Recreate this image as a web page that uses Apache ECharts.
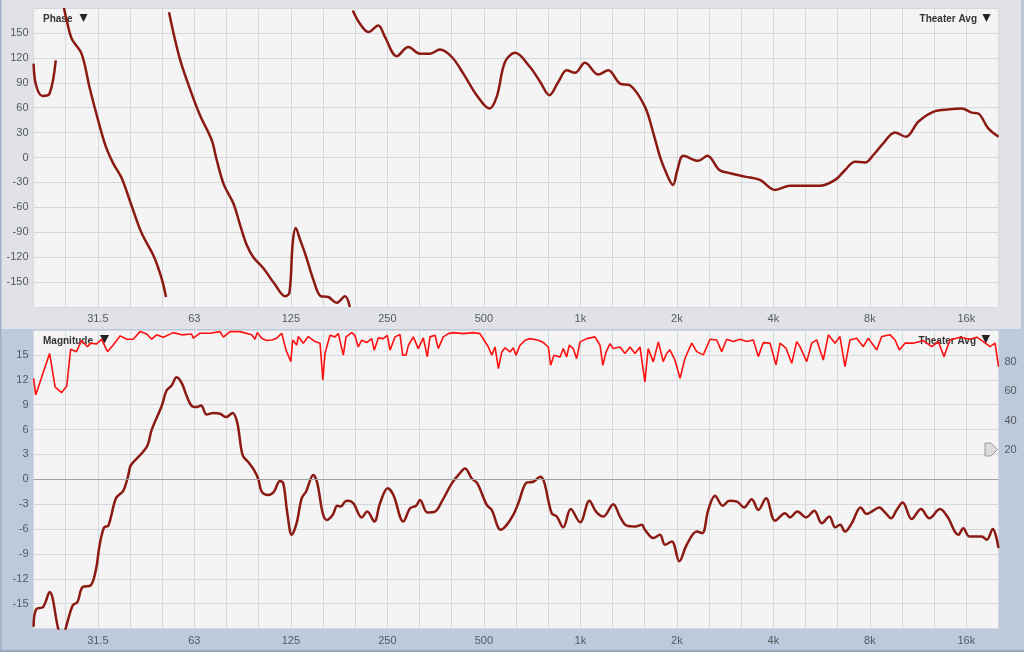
<!DOCTYPE html>
<html><head><meta charset="utf-8">
<script src="https://cdn.jsdelivr.net/npm/echarts/dist/echarts.min.js"></script>
<style>
html,body{margin:0;padding:0;}
body{width:1024px;height:652px;overflow:hidden;background:linear-gradient(#e0e2e7 0px,#e0e2e7 329px,#bccadb 329px,#bccadb 652px);}
#c{width:1024px;height:652px;}
</style></head><body><div id="c"></div>
<script>
// ---------- x axis (frequency, Hz, 1/3-octave grid, labels at octaves) ----------
const xTickOctaves = [-5, -4, -3, -2, -1, 0, 1, 2, 3, 4];
const xTickLabels = ['31.5', '63', '125', '250', '500', '1k', '2k', '4k', '8k', '16k'];

// ---------- Magnitude (dB) ----------
const magFreq = [
  19.7, 20.05, 21.1, 22.1, 23.5, 24.2, 24.8, 26.1, 27.0, 28.0,
  29.7, 30.9, 31.6, 32.7, 33.7, 35.6, 37.5, 38.6, 39.2, 39.6,
  44.4, 46.0, 49.4, 51.2, 53.1, 55.0, 57.1, 59.2, 61.3, 63.6,
  65.6, 68.3, 71.6, 75.2, 78.5, 82.3, 85.1, 88.4, 91.9, 96.0,
  99.0, 101.4, 106.3, 110.7, 115.6, 118.4, 121.9, 125.8, 130.3, 135.1,
  139.4, 146.9, 151.2, 157.2, 161.7, 168.8, 174.5, 178.9, 184.4, 188.7,
  195.8, 207.9, 216.4, 227.7, 237.2, 250.6, 261.1, 280.4, 294.4, 307.3,
  316.1, 333.3, 352.2, 369.5, 397.2, 416.1, 436.9, 458.3, 477.2, 510.6,
  529.2, 564.5, 589.4, 617.7, 640.6, 680.4, 713.2, 749.7, 770.5, 814,
  844.2, 884.5, 933, 998.6, 1067, 1119, 1180, 1267, 1329, 1395,
  1483, 1555, 1591, 1690, 1772, 1837, 1929, 2036, 2147, 2307,
  2401, 2507, 2631, 2782, 2916, 3082, 3241, 3425, 3591, 3795,
  4050, 4352, 4508, 4753, 5058, 5368, 5665, 5982, 6234, 6461,
  6698, 7026, 7489, 7822, 8109, 8563, 8921, 9314, 9702, 10130,
  10805, 11551, 12266, 13244, 13959, 15108, 15653, 16348, 17870, 18525,
  19342, 20159
];
const magDb = [
  -17.8, -15.7, -15.4, -13.6, -18, -19.5, -18, -15.2, -14.8, -13.0,
  -12.8, -10.7, -8.1, -5.8, -5.6, -2.3, -1.4, 0, 1.1, 1.7,
  3.9, 5.95, 8.8, 10.7, 11.3, 12.3, 11.6, 10.0, 8.85, 8.7,
  8.9, 7.8, 8.0, 7.9, 7.5, 8.0, 6.8, 2.9, 2.1, 1.1,
  0, -1.5, -1.9, -1.5, -0.2, -0.5, -4.1, -6.7, -5.3, -2.3,
  -1.5, 0.5, -0.5, -4.1, -4.9, -4.3, -3.2, -3.3, -2.7, -2.6,
  -2.9, -4.6, -3.9, -5.1, -2.9, -1.1, -1.9, -5.1, -3.5, -3.2,
  -2.5, -4.0, -3.9, -2.7, -0.5, 0.5, 1.3, 0.1, -0.5, -3.1,
  -3.7, -6.1, -5.5, -4.3, -2.9, -0.4, -0.3, 0.3, -0.3, -4.1,
  -4.5, -5.8, -3.6, -5.2, -2.6, -3.9, -4.5, -3.0, -4.5, -5.6,
  -5.7, -5.5, -6.1, -7.1, -6.7, -7.9, -7.5, -9.9, -7.9, -6.3,
  -6.5, -3.7, -2.0, -3.2, -2.6, -2.7, -3.4, -2.4, -3.7, -2.3,
  -5.0, -4.1, -4.6, -3.9, -4.6, -3.8, -5.3, -4.5, -5.8, -5.5,
  -6.3, -5.3, -3.4, -4.2, -3.9, -3.4, -4.0, -4.7, -3.7, -2.8,
  -4.8, -3.6, -4.7, -3.6, -4.5, -6.7, -5.9, -6.9, -6.9, -7.3,
  -6.0, -8.3
];

// ---------- Phase (degrees, wrapped; null = wrap break) ----------
const phaseFreq = [
  19.7, 20.05, 21.0, 22.1, 23.1, 23.8,
  24.5, 25.0, 25.9, 27.8, 29.5, 31.4, 33.1, 34.9, 37.1, 39.9, 42.8, 46.7, 48.8, 50.0, 51.0, 51.5,
  52.1, 56.3, 61.3, 65.1, 70.8, 73.4, 77.3, 82.7, 86.8, 91.0, 95.5, 102.5, 111.6, 119.9,
  123.7, 126.7, 129.5, 133.6, 139.4, 146.9, 154.9, 163.6, 173.8, 184.4, 191.0, 193.0,
  195.0, 205.4, 218.0, 234.2, 245.9, 267.4, 290.7, 316.1, 339.8, 364.8, 397.2, 431.6,
  475.0, 520.1, 548.4, 582.1, 625.6, 696.6, 749.7, 800.6, 853.5, 906.6, 962.3, 1034,
  1138, 1222, 1329, 1428, 1591, 1690, 1772, 1837, 1946, 2008, 2096, 2334, 2489, 2714,
  2933, 3265, 3634, 4050, 4508, 5023, 5592, 6234, 6698, 7192, 7731, 8205, 8810, 9581,
  10371, 11329, 12617, 14222, 15481, 16620, 17427, 18727, 20159
];
const phaseDeg = [
  113, 87, 74, 77, 117, null,
  180, 165, 143, 125, 83, 43, 13, -7, -25, -59, -91, -119, -139, -153, -168, null,
  175, 119, 77, 51, 21, -3, -33, -55, -81, -105, -120, -133, -153, -167,
  -163, -103, -85, -99, -119, -147, -167, -168, -175, -167, -180, null,
  177, 161, 151, 159, 145, 122, 133, 125, 125, 130, 121, 101,
  75, 59, 73, 115, 126, 109, 91, 75, 91, 105, 102, 114,
  100, 105, 89, 87, 61, 29, 1, -15, -33, -15, 2, -4, 2, -15,
  -19, -23, -27, -39, -34, -34, -34, -27, -15, -5, -6, 3, 17, 30,
  25, 43, 55, 58, 59, 54, 53, 35, 25
];

// ---------- Coherence (right axis) ----------
const cohFreq = [
  19.7, 20.0, 22.1, 23.0, 24.1, 25.0, 25.7, 26.8, 27.8, 29.0,
  29.7, 31.0, 32.1, 33.5, 34.9, 36.7, 38.5, 40.3, 42.3, 44.4,
  46.0, 47.7, 50.0, 53.7, 57.1, 61.3, 62.0, 65.1, 69.9, 75.2,
  77.0, 80.8, 86.8, 94.4, 96.6, 98.3, 101.4, 105.1, 108.9, 112.9,
  117.1, 120.7, 125.0, 126.7, 130.4, 131.9, 136.7, 141.7, 148.7, 154.2,
  157.3, 159.8, 165.6, 171.7, 175.8, 182.2, 185.8, 193.6, 198.0, 202.9,
  207.9, 215.5, 223.4, 227.6, 234.3, 242.8, 250, 254.9, 264.2, 273.8,
  279.2, 286.0, 290.8, 301.3, 312.2, 323.8, 333.1, 339.6, 352.2, 360.4,
  373.6, 387.5, 401.5, 431.4, 463.6, 486.2, 501, 516.6, 529.2, 541.9,
  555.1, 568.7, 582.1, 603.4, 617.8, 630, 648.3, 672.3, 696.6, 739.6,
  766.9, 794.3, 808.1, 827.4, 864.4, 884.9, 906.6, 923.5, 950.6, 973.9,
  997.8, 1047, 1111, 1152, 1175, 1203, 1238, 1267, 1330, 1378,
  1429, 1481, 1535, 1590, 1628, 1689, 1751, 1814, 1858, 1903,
  1973, 2047, 2121, 2226, 2307, 2419, 2538, 2664, 2760, 2862,
  3001, 3148, 3303, 3464, 3591, 3722, 3906, 4078, 4197, 4380,
  4565, 4731, 4844, 5083, 5269, 5464, 5727, 5938, 6229, 6455,
  6691, 6935, 7279, 7633, 7911, 8406, 8713, 9251, 9593, 9888,
  10302, 10935, 11743, 12475, 13076, 13627, 14222, 15290, 16428, 17242,
  18080, 18972, 19664, 20159
];
const cohVals = [
  69, 57.6, 86, 62.9, 59.2, 63.8, 88.9, 87.2, 94.8, 90.6,
  93, 92.5, 95.7, 87.2, 91.8, 98, 95.7, 95.7, 100.9, 99.3,
  95.7, 98.7, 97.1, 100.2, 98.7, 99.3, 96.4, 99.8, 99.8, 100.9,
  97.1, 100.9, 100.9, 98.7, 95.7, 100.2, 96.4, 94.8, 95.2, 96.4,
  99.8, 88.4, 80.4, 95.2, 91.8, 97.5, 93, 97.5, 94.1, 93,
  67.9, 86.1, 98.4, 97.3, 99.5, 84.8, 97.3, 100.2, 98.4, 90.4,
  95, 93.4, 96.1, 88.2, 96.6, 96.1, 98.4, 88.2, 97.3, 98.9,
  84.8, 84.8, 91.6, 97.3, 89.3, 96.6, 83.6, 97.3, 98.4, 89.3,
  97.3, 99.5, 100.2, 99.5, 100.2, 99.5, 95, 90.4, 84.8, 90.4,
  75.6, 87, 89.8, 87, 89.8, 84.8, 91.6, 95, 96.1, 95,
  93.4, 90.4, 77.9, 84.8, 83.6, 89.3, 83.6, 91.6, 89.3, 82.4,
  93.9, 96.1, 97.3, 91.6, 77.9, 87, 92.7, 89.3, 90.4, 85.9,
  90.4, 85.9, 90.4, 66.5, 89.3, 80.2, 93.9, 80.4, 85.9, 88.4,
  81.5, 69, 82.7, 93, 87.2, 85, 95.7, 95.2, 87.2, 95.7,
  94.1, 95.7, 94.1, 95.2, 83.8, 93.4, 93, 78.1, 93, 89.6,
  79.3, 94.1, 90.6, 80.4, 93, 95.2, 81.5, 98.7, 93, 97.5,
  77, 95.2, 96.4, 90.6, 96.4, 88.4, 97.5, 98.7, 95.2, 88.4,
  93, 93, 94.8, 90.6, 94.1, 83.8, 95.2, 97.1, 95.7, 97.1,
  94.1, 90.6, 93, 77
];

// ---------- build ----------
const toOct = f => Math.log2(f / 1000);
const pairs = (fs, vs) => fs.map((f, i) => [toOct(f), vs[i] === null ? null : vs[i]]);

const FONT = 'Liberation Sans, Arial, sans-serif';
const GRID_LINE = '#d7d8dd';
const CURVE = '#8a1a12';
const LABEL = '#555a60';

const xLabelFmt = v => {
  const k = Math.round(v * 3);
  if (k % 3 !== 0) return '';
  const i = xTickOctaves.indexOf(k / 3);
  return i >= 0 ? xTickLabels[i] : '';
};
const mkX = (gi, margin) => ({
  type: 'value', gridIndex: gi, min: -17 / 3, max: 13 / 3, interval: 1 / 3,
  axisLine: { show: false }, axisTick: { show: false },
  splitLine: { show: true, lineStyle: { color: GRID_LINE, width: 1 } },
  axisLabel: { formatter: xLabelFmt, interval: 0, color: LABEL, fontSize: 11, fontFamily: FONT, margin: margin, hideOverlap: false }
});

const chart = echarts.init(document.getElementById('c'), null, { renderer: 'canvas' });
chart.setOption({
  backgroundColor: 'transparent',
  animation: false,
  grid: [
    { left: 33.5, top: 8, width: 965, height: 299, show: true, backgroundColor: '#f4f4f4', borderWidth: 0, z: 0 },
    { left: 33.5, top: 330, width: 965, height: 298.5, show: true, backgroundColor: '#f4f4f4', borderWidth: 0, z: 0 }
  ],
  xAxis: [mkX(0, 6), mkX(1, 7)],
  yAxis: [
    { type: 'value', gridIndex: 0, min: -180, max: 180, interval: 30,
      axisLine: { show: false }, axisTick: { show: false },
      splitLine: { lineStyle: { color: GRID_LINE, width: 1 } },
      axisLabel: { formatter: v => (Math.abs(v) >= 180 ? '' : String(v)), color: LABEL, fontSize: 11, fontFamily: FONT, margin: 5 } },
    { type: 'value', gridIndex: 1, min: -18, max: 18, interval: 3,
      axisLine: { show: false }, axisTick: { show: false },
      splitLine: { lineStyle: { color: GRID_LINE, width: 1 } },
      axisLabel: { formatter: v => (Math.abs(v) >= 18 ? '' : String(v)), color: LABEL, fontSize: 11, fontFamily: FONT, margin: 5 } },
    { type: 'value', gridIndex: 1, position: 'right', min: -102, max: 102, splitNumber: 10,
      axisLine: { show: false }, axisTick: { show: false }, splitLine: { show: false },
      axisLabel: { formatter: v => ([20, 40, 60, 80].indexOf(v) >= 0 ? String(v) : ''), color: LABEL, fontSize: 11, fontFamily: FONT, margin: 6 } }
  ],
  series: [
    { type: 'line', name: 'Phase', xAxisIndex: 0, yAxisIndex: 0, data: pairs(phaseFreq, phaseDeg),
      smooth: 0.35, showSymbol: false, connectNulls: false, clip: true, z: 3,
      lineStyle: { color: CURVE, width: 2.5 } },
    { type: 'line', name: 'Magnitude', xAxisIndex: 1, yAxisIndex: 1, data: pairs(magFreq, magDb),
      smooth: 0.35, showSymbol: false, clip: true, z: 3,
      lineStyle: { color: CURVE, width: 2.5 },
      markLine: { silent: true, symbol: 'none', label: { show: false }, animation: false,
        lineStyle: { color: '#a0a0a0', width: 1, type: 'solid' }, data: [{ yAxis: 0 }] } },
    { type: 'line', name: 'Coherence', xAxisIndex: 1, yAxisIndex: 2, data: pairs(cohFreq, cohVals),
      smooth: false, showSymbol: false, clip: true, z: 4,
      lineStyle: { color: '#ff1010', width: 1.6 } }
  ],
  graphic: [
    { type: 'rect', z: 1, shape: { x: 0, y: 0, width: 1.5, height: 652 }, style: { fill: '#9fb0c6' } },
    { type: 'rect', z: 1, shape: { x: 1021, y: 0, width: 3, height: 329 }, style: { fill: '#b7c5d7' } },
    { type: 'rect', z: 1, shape: { x: 0, y: 650, width: 1024, height: 2 }, style: { fill: '#93a5bd' } },
    { type: 'text', z: 1, x: 43, y: 19, style: { text: 'Phase', font: 'bold 10px ' + FONT, fill: '#333', textVerticalAlign: 'middle' } },
    { type: 'polygon', z: 1, shape: { points: [[79.5, 14], [87.5, 14], [83.5, 22]] }, style: { fill: '#222' } },
    { type: 'text', z: 1, x: 977, y: 19, style: { text: 'Theater Avg', font: 'bold 10px ' + FONT, fill: '#333', textAlign: 'right', textVerticalAlign: 'middle' } },
    { type: 'polygon', z: 1, shape: { points: [[982.5, 14], [990.5, 14], [986.5, 22]] }, style: { fill: '#222' } },
    { type: 'text', z: 1, x: 43, y: 341, style: { text: 'Magnitude', font: 'bold 10px ' + FONT, fill: '#333', textVerticalAlign: 'middle' } },
    { type: 'polygon', z: 1, shape: { points: [[100, 335], [109, 335], [104.5, 343.5]] }, style: { fill: '#222' } },
    { type: 'text', z: 1, x: 976, y: 341, style: { text: 'Theater Avg', font: 'bold 10px ' + FONT, fill: '#333', textAlign: 'right', textVerticalAlign: 'middle' } },
    { type: 'polygon', z: 1, shape: { points: [[981.5, 335], [990, 335], [985.75, 343.5]] }, style: { fill: '#222' } },
    { type: 'polygon', z: 5, shape: { points: [[985, 443], [991, 443], [997.5, 449.5], [991, 456], [985, 456]] },
      style: { fill: '#dcdcdc', stroke: '#9a9a9a', lineWidth: 1 } }
  ]
});
</script></body></html>
